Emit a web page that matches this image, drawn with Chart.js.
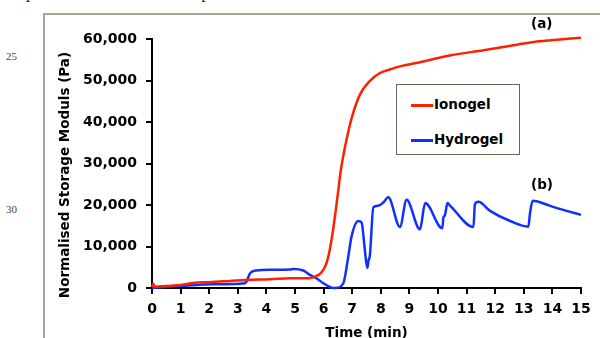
<!DOCTYPE html>
<html>
<head>
<meta charset="utf-8">
<script src="https://cdn.jsdelivr.net/npm/chart.js@4"></script>
<style>
  html, body { margin: 0; padding: 0; background: #fff; }
  #wrap { position: relative; width: 600px; height: 338px; overflow: hidden; }
  #frame { position: absolute; left: 43px; top: 13px; width: 600px; height: 400px;
           border-top: 2px solid #aaa494; border-left: 2px solid #aaa494; }
  .margin-no { position: absolute; left: 6px; font: 11px "Liberation Serif", serif; color: #444; }
  #pageText { position: absolute; left: 26px; top: -16px; font: 16px "Liberation Serif", serif; color: #222; white-space: nowrap; }
  #yTitle { position: absolute; left: 64px; top: 175px; width: 300px; text-align: center;
            font: bold 13.5px "DejaVu Sans", sans-serif; color: #000; white-space: nowrap;
            transform: translate(-50%, -50%) rotate(-90deg); }
  #legend { position: absolute; left: 396px; top: 84px; width: 122px; height: 69px;
            border: 1px solid #6e6654; background: #fff; font: bold 13.5px "DejaVu Sans", sans-serif; }
  .item { position: absolute; left: 14px; height: 20px; line-height: 20px; white-space: nowrap; }
  .item i { display: inline-block; width: 22px; height: 3px; vertical-align: middle; margin-right: 1px; }
  .tag { position: absolute; font: bold 13.5px "DejaVu Sans", sans-serif; }
  canvas { position: absolute; left: 0; top: 0; }
</style>
</head>
<body>
<div id="wrap">
  <div id="pageText">performed over the 15 min period of the run.</div>
  <div id="frame"></div>
  <div class="margin-no" style="top:50px">25</div>
  <div class="margin-no" style="top:203px">30</div>
  <canvas id="myChart" width="600" height="338"></canvas>
  <div id="yTitle"></div>
  <div id="legend"></div>
  <div class="tag" style="left:531px; top:15px">(a)</div>
  <div class="tag" style="left:531px; top:176px">(b)</div>
</div>
<script>
/*
 * DATA
 */
	var seriesNames = ["Ionogel", "Hydrogel"];
	var seriesColors = ["rgb(255, 32, 0)", "rgb(16, 48, 255)"];

	/* Ionogel - time (min) and normalised storage modulus (Pa) */
	var ionogelTime = [0, 0.04, 0.1, 0.5, 1, 1.56, 2, 2.73, 3.31, 4.13, 4.83, 5.5, 5.76, 5.9, 6.0, 6.1, 6.2, 6.3, 6.4, 6.5, 6.6, 6.7, 6.8, 6.98, 7.27, 7.62, 7.97, 8.34, 8.67, 9.29, 10.45, 11.6, 12.8, 13.36, 13.95, 15];
	var ionogelModulus = [300, 1000, 300, 500, 730, 1300, 1400, 1700, 1950, 2110, 2360, 2360, 2900, 3600, 4500, 6000, 8700, 12600, 17400, 22800, 28300, 32300, 35700, 40900, 46600, 49900, 51800, 52700, 53400, 54300, 56100, 57300, 58700, 59300, 59700, 60300];

	/* Hydrogel - time (min) and normalised storage modulus (Pa) */
	var hydrogelTime = [0, 1, 2.14, 3.25, 3.31, 3.43, 3.66, 4.13, 4.83, 4.94, 5.29, 5.52, 5.76, 5.99, 6.28, 6.42, 6.69, 6.85, 6.98, 7.21, 7.33, 7.43, 7.48, 7.53, 7.57, 7.62, 7.74, 7.91, 8.1, 8.26, 8.67, 8.9, 9.37, 9.55, 10.15, 10.19, 10.24, 10.33, 10.43, 11.24, 11.29, 11.41, 11.82, 12.52, 13.16, 13.22, 13.31, 13.45, 13.92, 14.5, 15];
	var hydrogelModulus = [0, 490, 900, 1140, 1600, 3570, 4220, 4380, 4450, 4600, 4220, 3170, 2300, 1140, 80, 0, 1140, 7000, 12500, 16150, 15750, 10000, 6800, 4800, 6500, 8000, 19400, 19800, 20700, 21850, 14700, 21270, 14130, 20460, 14400, 17000, 17500, 20460, 19800, 14700, 20200, 20780, 18590, 16150, 14780, 18200, 21020, 20900, 19800, 18590, 17610];

	/* Axes */
	var xTicks = { min: 0, max: 15, step: 1 };
	var yTicks = { min: 0, max: 60000, step: 10000 };
	var xTitle = "Time (min)";
	var yTitle = "Normalised Storage Moduls (Pa)";

	function toPoints(xs, ys) {
		return xs.map(function (x, i) { return { x: x, y: ys[i] }; });
	}

/*
 * LEGEND AND AXIS TITLE (html text)
 */
	document.getElementById('yTitle').textContent = yTitle;

	var legendBox = document.getElementById('legend');
	seriesNames.forEach(function (name, i) {
		var div = document.createElement('div');
		div.className = 'item';
		div.style.top = (i === 0 ? 9 : 44) + 'px';
		div.innerHTML = '<i style="background:' + seriesColors[i] + '"></i>' + name;
		legendBox.appendChild(div);
	});

/*
 * CHART
 */
	var tickFont = { family: 'DejaVu Sans', weight: 'bold', size: 14 };

	var myChart = new Chart(document.getElementById('myChart'), {
		type: 'line',
		data: {
			datasets: [{
				label: seriesNames[0],
				data: toPoints(ionogelTime, ionogelModulus),
				borderColor: seriesColors[0],
				borderWidth: 2.5,
				pointRadius: 0,
				cubicInterpolationMode: 'monotone',
				clip: false
			}, {
				label: seriesNames[1],
				data: toPoints(hydrogelTime, hydrogelModulus),
				borderColor: seriesColors[1],
				borderWidth: 2.5,
				pointRadius: 0,
				cubicInterpolationMode: 'monotone',
				clip: false
			}]
		},
		options: {
			responsive: false,
			animation: false,
			layout: { padding: { left: 0, top: 39, right: 19, bottom: 0 } },
			plugins: { legend: { display: false }, tooltip: { enabled: false } },
			scales: {
				x: {
					type: 'linear',
					min: xTicks.min, max: xTicks.max,
					ticks: { stepSize: xTicks.step, color: '#000', font: tickFont, padding: 7, maxRotation: 0 },
					grid: { drawOnChartArea: false, drawTicks: true, tickLength: 6, color: '#000', lineWidth: 2 },
					border: { display: true, color: '#000', width: 2 },
					title: { display: true, text: xTitle, color: '#000', font: { family: 'DejaVu Sans', weight: 'bold', size: 13.5, lineHeight: 0.7 }, padding: 0 },
					afterFit: function (scale) { scale.height = 50; }
				},
				y: {
					min: yTicks.min, max: yTicks.max,
					ticks: { stepSize: yTicks.step, color: '#000', font: tickFont, padding: 9 },
					grid: { drawOnChartArea: false, drawTicks: true, tickLength: 6, color: '#000', lineWidth: 2 },
					border: { display: true, color: '#000', width: 2 },
					afterFit: function (scale) { scale.width = 152; }
				}
			}
		}
	});
</script>
</body>
</html>
